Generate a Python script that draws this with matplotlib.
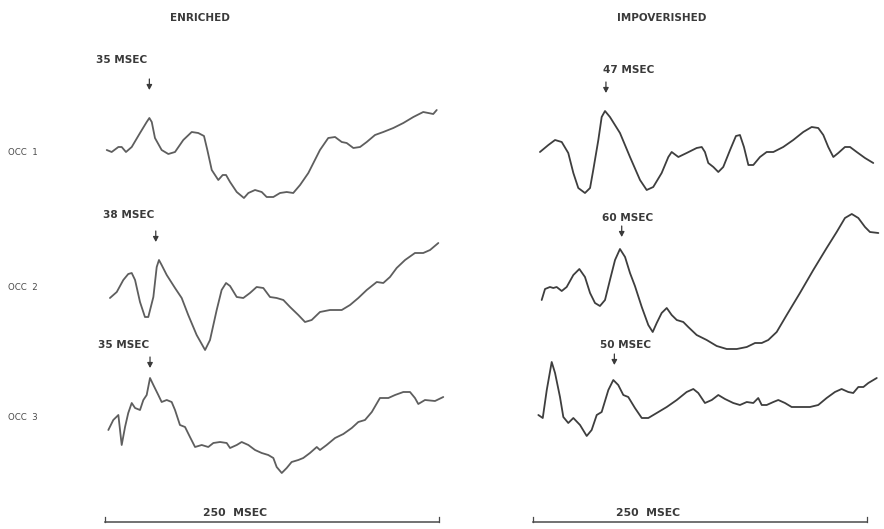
import matplotlib
matplotlib.use("Agg")
import matplotlib.pyplot as plt

# ---------------- data (time in msec, amplitude in arbitrary units) ----------------
column_titles = ["ENRICHED", "IMPOVERISHED"]
row_labels = ["OCC  1", "OCC  2", "OCC  3"]
scale_label = "250  MSEC"

enr1_t = [1.3, 5.0, 10.0, 12.5, 15.7, 20.0, 26.2, 31.2, 33.2, 35.0, 37.4, 42.4, 47.4, 52.4, 58.6, 64.9,
          69.8, 74.1, 76.6, 79.9, 84.8, 88.1, 90.6, 93.6, 98.6, 104.0, 107.3, 112.3, 117.3, 121.0, 126.0,
          131.0, 136.0, 140.9, 146.0, 152.2, 160.9, 167.1, 172.2, 177.2, 180.9, 185.9, 190.9, 195.9,
          202.1, 208.3, 215.8, 223.3, 230.8, 238.2, 242.0, 245.7, 248.3]
enr1_a = [0.5, 0.3, 0.8, 0.8, 0.3, 0.8, 2.2, 3.3, 3.7, 3.3, 1.7, 0.5, 0.1, 0.3, 1.5, 2.3,
          2.2, 1.9, 0.5, -1.5, -2.5, -2.0, -2.0, -2.7, -3.7, -4.3, -3.8, -3.5, -3.7, -4.2, -4.2,
          -3.8, -3.7, -3.8, -3.0, -1.8, 0.5, 1.7, 1.8, 1.3, 1.2, 0.7, 0.8, 1.3,
          2.0, 2.3, 2.7, 3.2, 3.8, 4.3, 4.2, 4.1, 4.5]

enr2_t = [3.7, 8.8, 13.7, 17.4, 20.0, 22.5, 26.2, 29.9, 32.4, 36.2, 38.7, 40.4, 42.4, 46.2, 52.4, 57.4,
          62.3, 68.6, 74.9, 78.6, 83.6, 87.3, 90.6, 93.6, 98.6, 103.5, 108.5, 113.5, 118.5, 123.5, 128.5,
          133.5, 138.5, 144.7, 149.7, 154.7, 160.9, 168.4, 177.2, 183.4, 189.6, 195.9, 203.4, 208.3,
          213.3, 218.3, 224.6, 232.0, 238.2, 243.3, 249.5]
enr2_a = [-0.8, -0.2, 1.0, 1.6, 1.7, 1.0, -1.2, -2.7, -2.7, -0.7, 2.3, 3.0, 2.5, 1.5, 0.2, -0.8,
          -2.5, -4.5, -6.0, -5.0, -2.0, 0.0, 0.7, 0.4, -0.7, -0.8, -0.3, 0.3, 0.2, -0.7, -0.8,
          -1.0, -1.7, -2.5, -3.2, -3.0, -2.2, -2.0, -2.0, -1.5, -0.8, 0.0, 0.8, 0.7,
          1.3, 2.2, 3.0, 3.7, 3.7, 4.0, 4.7]

enr3_t = [2.5, 6.2, 10.0, 12.5, 15.0, 17.4, 20.0, 22.5, 26.2, 28.7, 31.2, 33.7, 36.2, 39.9, 42.4, 46.2,
          49.9, 52.4, 56.1, 59.9, 63.6, 67.4, 72.4, 77.3, 81.1, 86.1, 91.1, 93.6, 98.6, 102.3, 107.3,
          112.3, 117.3, 122.2, 126.0, 128.5, 132.3, 136.0, 139.7, 144.7, 148.4, 153.4, 158.5, 160.9,
          165.9, 172.2, 178.4, 184.7, 189.6, 194.6, 199.7, 205.8, 212.1, 217.1, 223.3, 228.3, 232.0,
          234.5, 239.5, 247.0, 253.2]
enr3_a = [-1.0, 0.0, 0.5, -2.5, -0.7, 0.7, 1.7, 1.2, 1.0, 2.0, 2.5, 4.2, 3.5, 2.5, 1.8, 2.0,
          1.8, 1.0, -0.5, -0.7, -1.7, -2.7, -2.5, -2.7, -2.3, -2.2, -2.3, -2.8, -2.5, -2.2, -2.5,
          -3.0, -3.3, -3.5, -3.8, -4.7, -5.3, -4.8, -4.2, -4.0, -3.8, -3.3, -2.7, -3.0,
          -2.5, -1.8, -1.4, -0.8, -0.2, 0.0, 0.8, 2.2, 2.2, 2.5, 2.8, 2.8, 2.2,
          1.6, 2.0, 1.9, 2.3]

imp1_t = [5.2, 11.5, 16.5, 21.5, 26.4, 30.2, 33.9, 38.9, 42.7, 45.1, 48.9, 51.4, 53.9, 57.6, 65.1, 72.6,
          80.1, 85.1, 90.0, 96.3, 101.3, 103.8, 108.8, 115.0, 122.5, 126.3, 128.7, 131.2, 135.0, 138.7,
          142.4, 147.5, 151.9, 154.9, 157.9, 161.2, 164.9, 169.9, 174.9, 179.9, 187.3, 194.8, 202.3,
          208.6, 213.5, 217.3, 221.0, 224.8, 228.5, 233.5, 237.3, 242.3, 248.5, 254.7]
imp1_a = [0.3, 1.0, 1.5, 1.3, 0.2, -1.8, -3.3, -3.8, -3.3, -1.5, 1.5, 3.8, 4.4, 3.8, 2.2, -0.2,
          -2.5, -3.5, -3.2, -1.8, -0.2, 0.3, -0.2, 0.2, 0.7, 0.8, 0.3, -0.8, -1.2, -1.7,
          -1.2, 0.5, 1.9, 2.0, 0.8, -1.0, -1.0, -0.2, 0.3, 0.3, 0.8, 1.5, 2.3,
          2.8, 2.7, 2.0, 0.8, -0.2, 0.2, 0.8, 0.8, 0.3, -0.3, -0.8]

imp2_t = [6.5, 9.0, 12.7, 15.2, 17.7, 21.5, 25.2, 30.2, 34.7, 38.9, 42.7, 46.4, 50.1, 53.9, 57.6, 61.4,
          65.1, 68.9, 72.6, 76.3, 81.4, 86.3, 89.6, 92.6, 96.3, 100.1, 103.8, 107.6, 112.5, 116.2,
          122.5, 130.0, 137.5, 145.0, 152.5, 160.0, 166.2, 171.2, 176.1, 182.4, 189.9, 199.8, 209.8,
          219.8, 227.3, 233.5, 238.6, 243.5, 248.5, 252.2, 258.5]
imp2_a = [-1.0, 0.1, 0.3, 0.2, 0.3, -0.1, 0.3, 1.5, 2.1, 1.3, -0.3, -1.3, -1.6, -1.0, 1.0, 3.0,
          4.1, 3.3, 1.7, 0.4, -1.7, -3.5, -4.2, -3.3, -2.3, -1.8, -2.5, -3.0, -3.2, -3.7,
          -4.5, -5.0, -5.6, -5.9, -5.9, -5.7, -5.3, -5.3, -5.0, -4.2, -2.5, -0.3, 2.0,
          4.2, 5.8, 7.2, 7.6, 7.2, 6.3, 5.8, 5.7]

imp3_t = [4.0, 7.3, 10.3, 14.0, 16.5, 20.2, 22.7, 26.4, 30.2, 35.2, 40.2, 43.9, 47.7, 51.4, 56.4, 60.1,
          63.8, 67.6, 71.3, 76.3, 81.4, 86.3, 92.6, 100.1, 107.6, 115.0, 120.0, 123.7, 128.7, 133.8,
          138.7, 143.7, 149.9, 154.9, 160.0, 164.9, 168.6, 171.2, 174.9, 179.9, 183.6, 188.6, 193.6,
          199.8, 207.3, 213.5, 219.8, 226.0, 231.0, 236.0, 239.7, 243.5, 247.3, 251.0, 257.3]
imp3_a = [0.5, 0.2, 3.0, 5.8, 4.7, 2.3, 0.3, -0.3, 0.2, -0.5, -1.6, -1.0, 0.5, 0.8, 3.0, 4.0,
          3.5, 2.5, 2.3, 1.2, 0.2, 0.2, 0.7, 1.3, 2.0, 2.8, 3.1, 2.7, 1.7, 2.0,
          2.5, 2.1, 1.7, 1.5, 1.8, 1.7, 2.2, 1.5, 1.5, 1.8, 2.0, 1.7, 1.3,
          1.3, 1.3, 1.5, 2.2, 2.8, 3.1, 2.8, 2.7, 3.3, 3.3, 3.7, 4.2]

# latency markers: label text, arrow time (msec) as drawn
enr_latency_labels = ["35 MSEC", "38 MSEC", "35 MSEC"]
enr_arrow_t = [33.2, 38.0, 33.7]
imp_latency_labels = ["47 MSEC", "60 MSEC", "50 MSEC"]
imp_arrow_t = [54.6, 66.4, 60.9]

traces = [[(enr1_t, enr1_a), (imp1_t, imp1_a)],
          [(enr2_t, enr2_a), (imp2_t, imp2_a)],
          [(enr3_t, enr3_a), (imp3_t, imp3_a)]]
latency_labels = [[enr_latency_labels[i], imp_latency_labels[i]] for i in range(3)]
arrow_times = [[enr_arrow_t[i], imp_arrow_t[i]] for i in range(3)]

# ---------------- layout / style ----------------
W, H = 884, 529
fig = plt.figure(figsize=(W / 100, H / 100), dpi=100)
fig.patch.set_facecolor("white")

TEXT_C = "#3a3a3a"
LINE_C = ["#5e5e5e", "#3e3e3e"]
FONT = dict(family="DejaVu Sans", fontweight="bold", color=TEXT_C)

col_x0 = [105, 533]        # pixel x of 0 msec
col_w = 334                # pixels for 250 msec
row_center = [155, 290, 420]
half_h = 100               # pixels -> 10 amplitude units

# label positions (msec offset from arrow, amplitude)
label_off = [[(-40, 9.5), (-2.2, 8.5)],
             [(-39.5, 7.5), (-15, 7.2)],
             [(-39, 7.5), (-11, 7.5)]]
arrow_amp = [[7.0, 6.7], [5.3, 5.8], [5.7, 6.0]]


def px_axes(x0, ytop, w, h):
    return fig.add_axes([x0 / W, 1 - (ytop + h) / H, w / W, h / H])


for r in range(3):
    for c in range(2):
        ax = px_axes(col_x0[c], row_center[r] - half_h, col_w, 2 * half_h)
        ax.set_xlim(0, 250)
        ax.set_ylim(-10, 10)
        ax.axis("off")
        ax.patch.set_alpha(0)
        t, a = traces[r][c]
        ax.plot(t, a, color=LINE_C[c], lw=1.3, solid_joinstyle="round",
                solid_capstyle="round", clip_on=False)
        at = arrow_times[r][c]
        ay = arrow_amp[r][c]
        ax.annotate("", xy=(at, ay - 0.5), xytext=(at, ay + 0.6),
                    arrowprops=dict(arrowstyle="-|>,head_width=0.16,head_length=0.3",
                                    color=TEXT_C, lw=0.9, shrinkA=0, shrinkB=0),
                    annotation_clip=False)
        dx, dy = label_off[r][c]
        ax.text(at + dx, dy, latency_labels[r][c], fontsize=7.6,
                ha="left", va="center", clip_on=False, **FONT)

# row labels
for r in range(3):
    fig.text(8 / W, 1 - (row_center[r] - 3) / H, row_labels[r], fontsize=6.2,
             ha="left", va="center", family="DejaVu Sans", color="#4a4a4a")

# column titles
title_x = [200, 662]
for c in range(2):
    fig.text(title_x[c] / W, 1 - 18 / H, column_titles[c], fontsize=7.5,
             ha="center", va="center", **FONT)

# 250 msec scale bars
scale_text_t = [97, 86]
for c in range(2):
    bx = px_axes(col_x0[c], 490, col_w, 39)
    bx.set_xlim(0, 250)
    bx.set_ylim(0, 1)
    bx.axis("off")
    bx.patch.set_alpha(0)
    bx.plot([0, 250], [0.18, 0.18], color="#4a4a4a", lw=1.1, clip_on=False)
    bx.plot([0, 0], [0.18, 0.3], color="#4a4a4a", lw=0.9, clip_on=False)
    bx.plot([250, 250], [0.18, 0.3], color="#4a4a4a", lw=0.9, clip_on=False)
    bx.text(scale_text_t[c], 0.28, scale_label, fontsize=7.8, ha="center",
            va="bottom", **FONT)

fig.savefig("out.png", dpi=100, facecolor="white")
